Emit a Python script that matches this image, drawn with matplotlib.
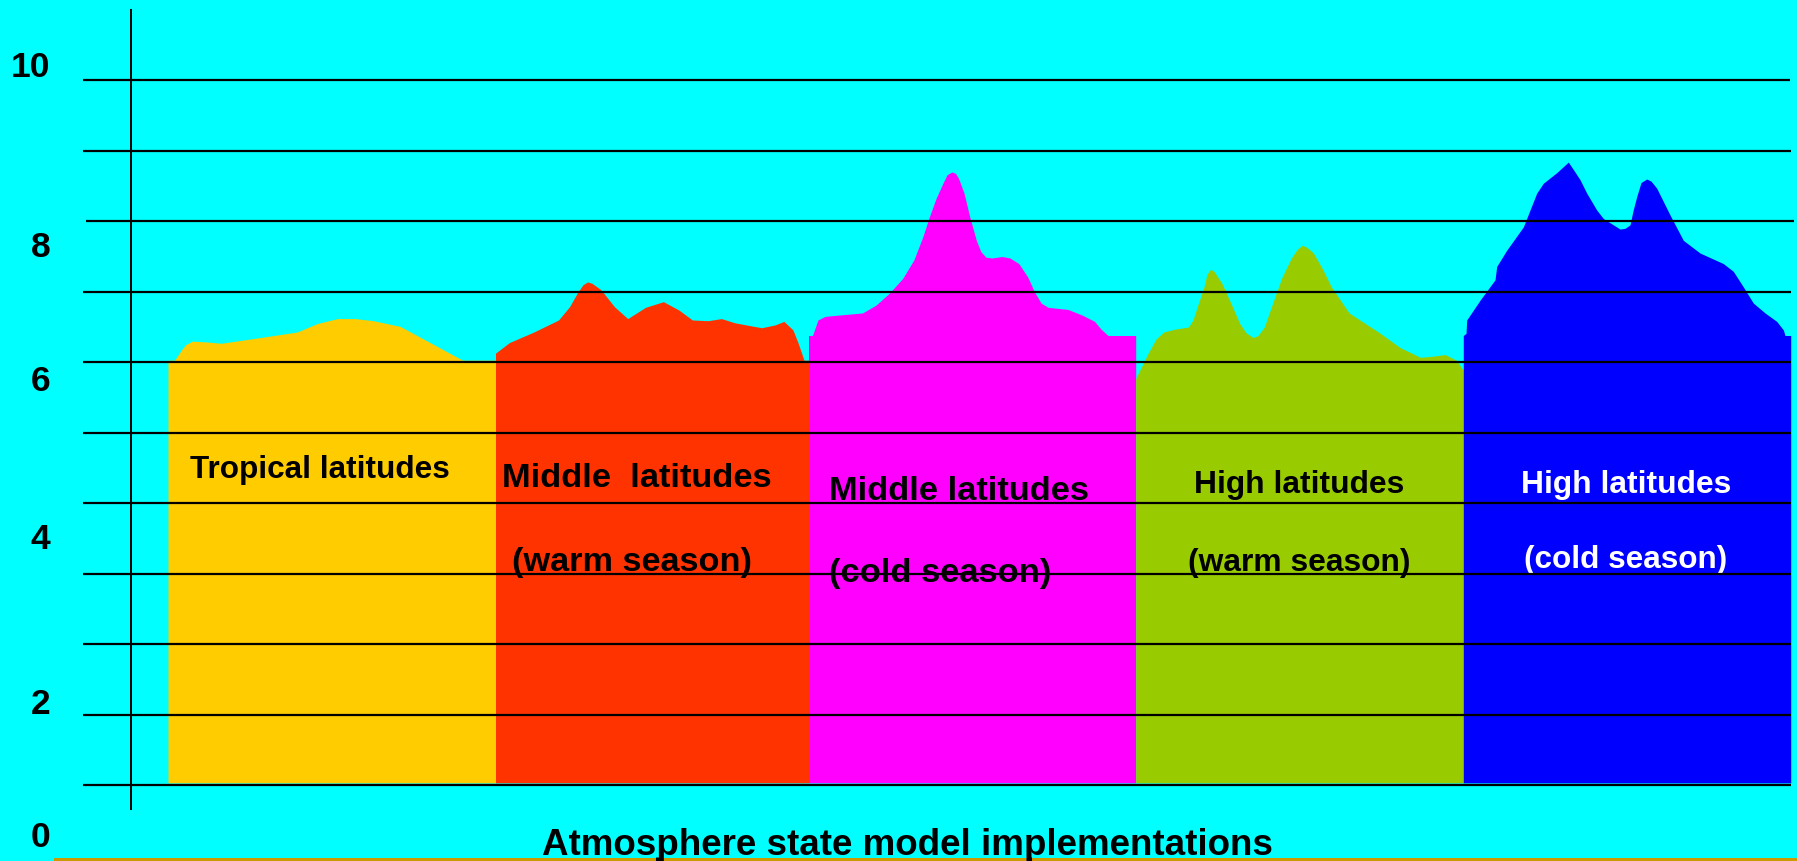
import matplotlib
matplotlib.use('Agg')
import matplotlib.pyplot as plt

# ---- data ----
# horizontal guide lines (grid units), and where each one starts / ends
grid_levels = [0, 1, 2, 3, 4, 5, 6, 7, 8, 9, 10]
grid_start = [83, 83, 83, 83, 83, 83, 83, 83, 86, 83, 83]
grid_end = [1791, 1791, 1791, 1791, 1791, 1791, 1791, 1791, 1794, 1791, 1790]

# axis labels on the left (placed loosely, as in the original slide)
tick_labels = ['10', '8', '6', '4', '2', '0']
tick_label_x = [30.5, 40.5, 41, 40.7, 40.3, 40.8]
tick_label_y = [10.05, 7.50, 5.59, 3.345, 1.007, -0.871]

# regions, left to right
region_colors = ['#FFCC00', '#FF3300', '#FF00FF', '#99CC00', '#0000FF']
bar_base = 0.035

tropical_x = [168, 174.6, 181.2, 185.7, 192.4, 205, 221.4, 260, 297.3, 317.4, 337.5,
              355, 373.2, 400, 430, 462.5, 496]
tropical_y = [6.03, 6.03, 6.17, 6.25, 6.30, 6.29, 6.27, 6.35, 6.43, 6.55, 6.62,
              6.62, 6.59, 6.51, 6.28, 6.03, 6.03]

mid_warm_x = [495.5, 509.4, 533.9, 558.5, 569.6, 578, 583, 587.5, 592, 600.9, 614.3,
              627.7, 645.5, 663.4, 679, 692.4, 708, 721.4, 734.8, 761.6, 775, 783.9,
              792.9, 798.2, 804, 808.5]
mid_warm_y = [6.13, 6.28, 6.43, 6.60, 6.79, 7.00, 7.10, 7.14, 7.12, 7.03, 6.79,
              6.62, 6.78, 6.86, 6.74, 6.60, 6.59, 6.62, 6.56, 6.49, 6.53, 6.58,
              6.46, 6.27, 6.03, 6.03]

mid_cold_x = [808.5, 812.5, 817.9, 825, 831.3, 862.5, 875.9, 889.3, 902.7, 913.8, 922.8,
              929.5, 936.2, 942.9, 947, 951.8, 955.5, 958.5, 964, 969.6, 976.3, 980.8,
              986, 992, 1002, 1009.8, 1018.8, 1027.7, 1034.4, 1041.1, 1048, 1054.5,
              1067.9, 1082, 1094.6, 1101, 1108, 1135.7]
mid_cold_y = [6.38, 6.38, 6.60, 6.65, 6.66, 6.70, 6.81, 6.98, 7.19, 7.45, 7.78,
              8.07, 8.33, 8.54, 8.66, 8.70, 8.68, 8.61, 8.40, 8.07, 7.73, 7.57,
              7.49, 7.48, 7.50, 7.48, 7.40, 7.21, 7.00, 6.84, 6.78, 6.77,
              6.75, 6.67, 6.58, 6.47, 6.38, 6.38]

high_warm_x = [1135.7, 1148.2, 1156, 1163.8, 1175, 1188.4, 1193, 1197.3, 1204, 1207,
               1210.7, 1214, 1221.9, 1230.8, 1239.7, 1246, 1253.1, 1258, 1264.3, 1273.2,
               1282.1, 1291, 1297, 1302.2, 1307, 1313.4, 1322.3, 1331.3, 1349.1, 1380.4,
               1400, 1420.5, 1435, 1445.1, 1456.3, 1463, 1464]
high_warm_y = [5.77, 6.13, 6.33, 6.43, 6.47, 6.50, 6.60, 6.79, 7.07, 7.25,
               7.32, 7.29, 7.12, 6.84, 6.55, 6.42, 6.35, 6.38, 6.50, 6.86,
               7.21, 7.47, 7.60, 7.66, 7.63, 7.55, 7.33, 7.07, 6.70, 6.41,
               6.21, 6.07, 6.09, 6.11, 6.03, 5.89, 5.85]

high_cold_x = [1463.3, 1466, 1466.7, 1480, 1495, 1496.7, 1506.7, 1523.3, 1536.7, 1543.3,
               1556.7, 1568.3, 1574, 1580, 1586.7, 1596.7, 1603.3, 1613.3, 1620, 1625,
               1630, 1633, 1636.7, 1641, 1646.7, 1651, 1656.7, 1670, 1683.3, 1700,
               1723.3, 1733.3, 1743.3, 1753.3, 1765, 1776.7, 1783.3, 1785, 1790.7]
high_cold_y = [6.38, 6.41, 6.60, 6.88, 7.17, 7.36, 7.59, 7.92, 8.40, 8.54,
               8.69, 8.84, 8.72, 8.59, 8.40, 8.16, 8.04, 7.95, 7.89, 7.90,
               7.95, 8.15, 8.35, 8.55, 8.60, 8.57, 8.47, 8.09, 7.73, 7.55,
               7.40, 7.29, 7.07, 6.84, 6.70, 6.58, 6.46, 6.38, 6.38]

outlines = [(tropical_x, tropical_y), (mid_warm_x, mid_warm_y), (mid_cold_x, mid_cold_y),
            (high_warm_x, high_warm_y), (high_cold_x, high_cold_y)]

# region captions: (text, centre x, baseline y, size, colour)
caption_text = ['Tropical latitudes', 'Middle  latitudes', '(warm season)',
                'Middle latitudes', '(cold season)', 'High latitudes', '(warm season)',
                'High latitudes', '(cold season)']
caption_x = [320, 637, 632, 959, 940, 1299, 1299, 1626, 1626]
caption_y = [4.36, 4.235, 3.044, 4.047, 2.888, 4.142, 3.044, 4.15, 3.078]
caption_size = [22.7, 24.8, 24.7, 24.8, 24.8, 22.9, 22.9, 22.9, 22.7]
caption_color = ['black'] * 7 + ['white', 'white']

x_title = 'Atmosphere state model implementations'

# ---- drawing ----
bg = '#00FFFF'
fig = plt.figure(figsize=(17.97, 8.61), dpi=100, facecolor=bg)
ax = fig.add_axes([0, 0, 1, 1])
ax.set_facecolor(bg)
ax.set_xlim(0, 1797)
ax.set_ylim(-1.074, 11.139)
ax.axis('off')

font = 'Liberation Sans'

for (xs, ys), c in zip(outlines, region_colors):
    ax.fill_between(xs, bar_base, ys, color=c, linewidth=0, zorder=1)

for txt, x, y, s, c in zip(caption_text, caption_x, caption_y, caption_size, caption_color):
    ax.text(x, y, txt, ha='center', va='baseline', fontsize=s, fontweight='bold',
            color=c, family=font, zorder=2)

# guide lines sit on top of the fills and captions
for lv, x0, x1 in zip(grid_levels, grid_start, grid_end):
    ax.hlines(lv, x0, x1, color='black', linewidth=1.6, zorder=3)
ax.vlines(131, -0.35, 11.01, color='black', linewidth=1.4, zorder=3)

for lab, x, y in zip(tick_labels, tick_label_x, tick_label_y):
    ax.text(x, y, lab, ha='center', va='baseline', fontsize=25.5, fontweight='bold',
            family=font, zorder=4)

# thin gold rule along the bottom edge, with two stray black marks
ax.axhspan(-1.074, -1.027, xmin=54 / 1797, xmax=1, color='#CC9900', linewidth=0, zorder=2)
ax.vlines([657, 1030], -1.074, -1.02, color='black', linewidth=2.2, zorder=2)

ax.text(907, -0.987, x_title, ha='center', va='baseline', fontsize=26.5,
        fontweight='bold', family=font, zorder=5)

fig.savefig('out.png', dpi=100, facecolor=bg)
